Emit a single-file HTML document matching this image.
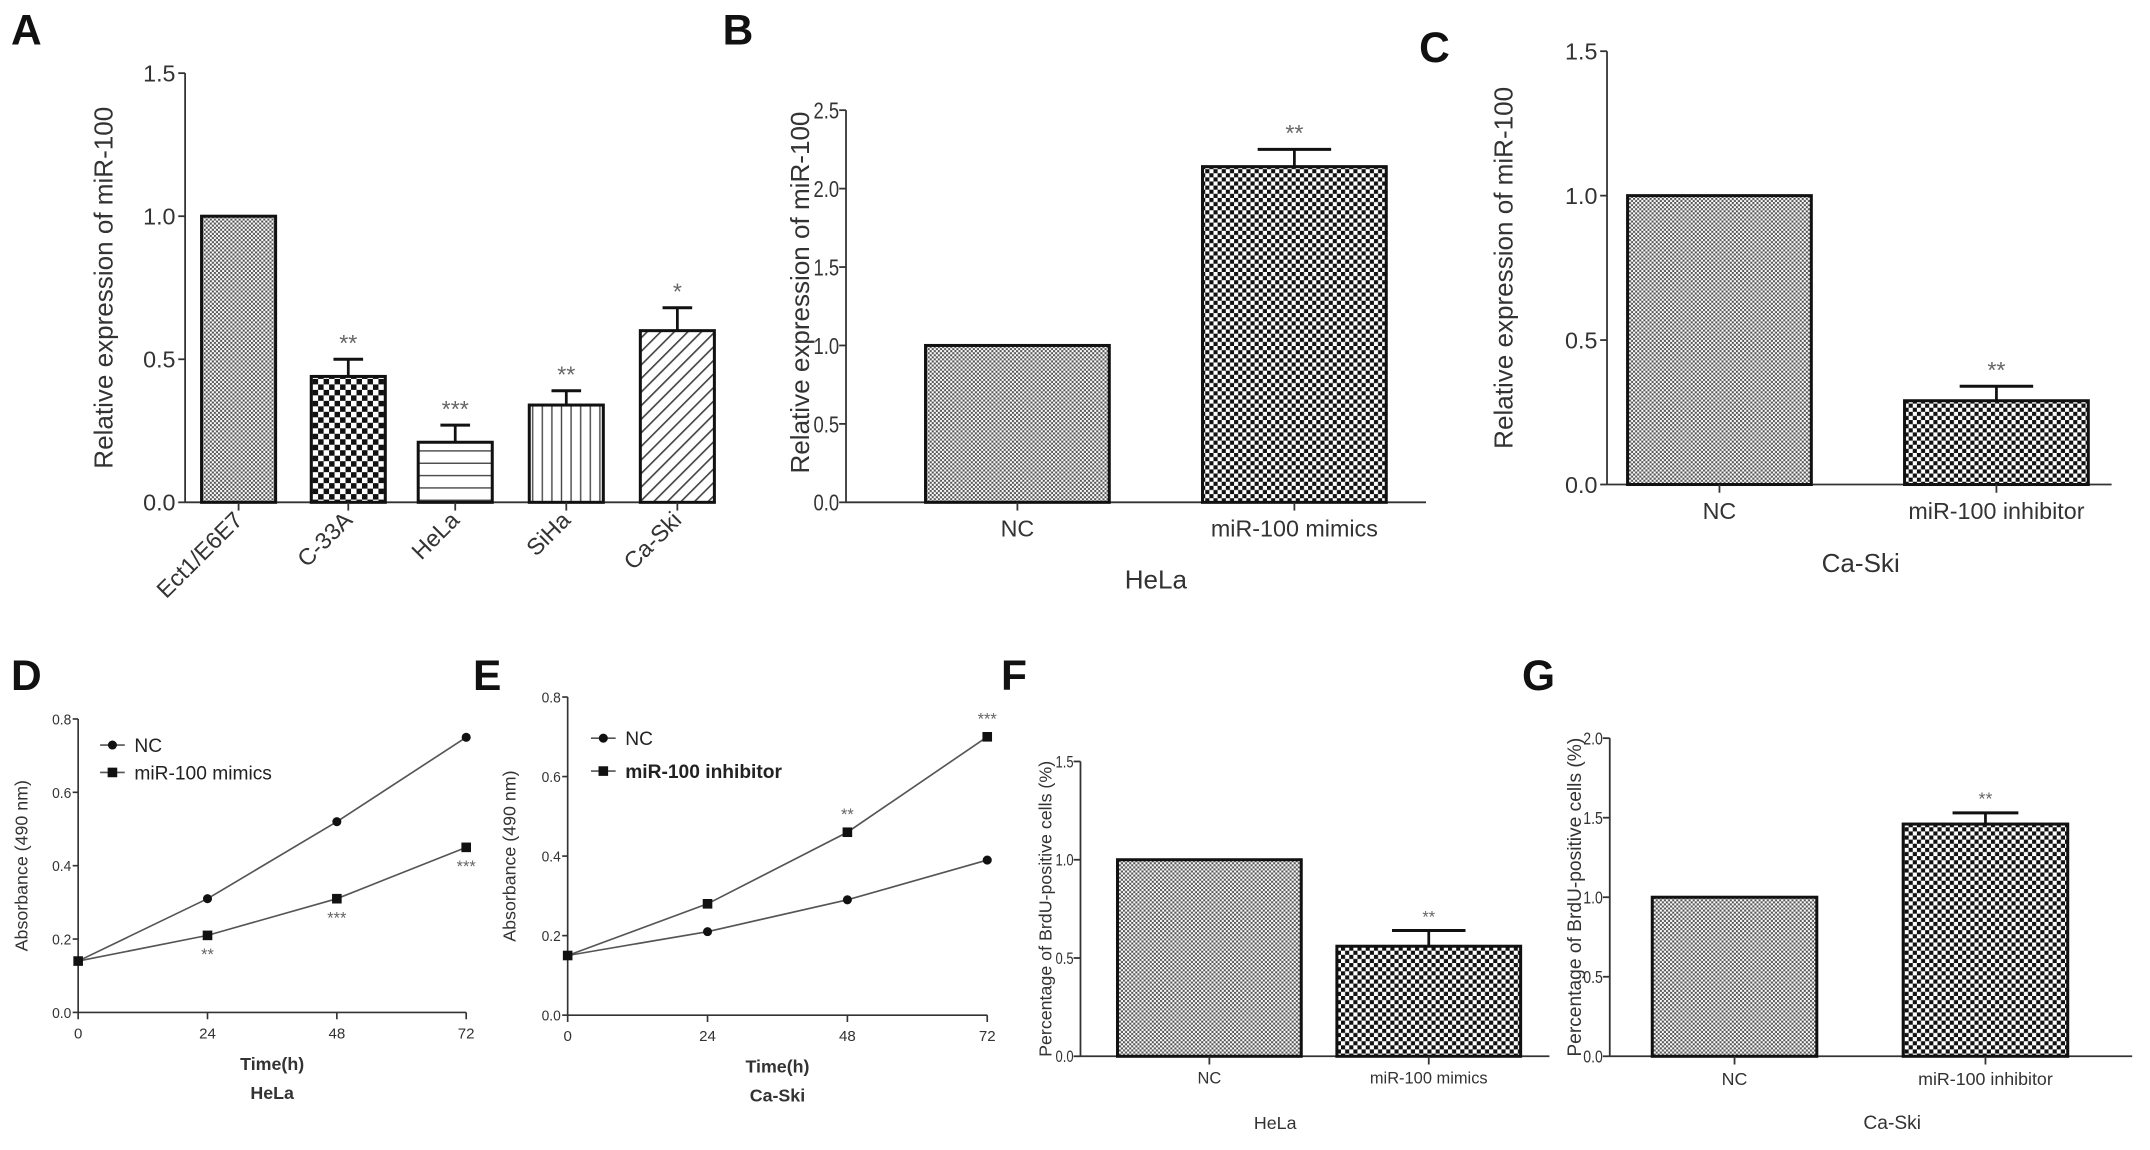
<!DOCTYPE html>
<html><head><meta charset="utf-8"><style>
html,body{margin:0;padding:0;background:#fff;}
svg{display:block;font-family:"Liberation Sans",Arial,sans-serif;}
</style></head><body>
<svg id="fig" width="2150" height="1150" viewBox="0 0 1568 838" xmlns="http://www.w3.org/2000/svg">
<defs>
<pattern id="pFine" width="3" height="3" patternUnits="userSpaceOnUse"><rect width="3" height="3" fill="#fff"/><rect width="1.5" height="1.5" fill="#555"/><rect x="1.5" y="1.5" width="1.5" height="1.5" fill="#555"/></pattern>
<pattern id="pCoarse" width="8" height="8" patternUnits="userSpaceOnUse"><rect width="8" height="8" fill="#fff"/><rect width="4" height="4" fill="#111"/><rect x="4" y="4" width="4" height="4" fill="#111"/></pattern>
<pattern id="pDots" width="6" height="6" patternUnits="userSpaceOnUse"><rect width="6" height="6" fill="#fff"/><rect width="3" height="3" fill="#111"/><rect x="3" y="3" width="3" height="3" fill="#111"/></pattern>
<pattern id="pHoriz" width="6" height="9" patternUnits="userSpaceOnUse"><rect width="6" height="9" fill="#fff"/><rect y="4" width="6" height="1" fill="#444"/></pattern>
<pattern id="pVert" width="7" height="6" patternUnits="userSpaceOnUse"><rect width="7" height="6" fill="#fff"/><rect x="3" width="1" height="6" fill="#444"/></pattern>
<pattern id="pDiag" width="7" height="7" patternUnits="userSpaceOnUse" patternTransform="rotate(45)"><rect width="7" height="7" fill="#fff"/><rect width="1.2" height="7" fill="#444"/></pattern>
</defs>
<g id="root"></g>
</svg>
<script>
// Panel A data
const aCats = ["Ect1/E6E7","C-33A","HeLa","SiHa","Ca-Ski"];
const aVals = [1.0,0.44,0.21,0.34,0.60];
const aErr = [0,0.50,0.27,0.39,0.68];
const aStars = ["","**","***","**","*"];
const aTicks = [0,0.5,1.0,1.5];
// Panel B
const bCats = ["NC","miR-100 mimics"];
const bVals = [1.0,2.14];
const bErr = [0,2.25];
const bStars = ["","**"];
const bTicks = [0,0.5,1.0,1.5,2.0,2.5];
// Panel C
const cCats = ["NC","miR-100 inhibitor"];
const cVals = [1.0,0.29];
const cErr = [0,0.34];
const cStars = ["","**"];
const cTicks = [0,0.5,1.0,1.5];
// Panel D
const dTimes = [0,24,48,72];
const dNC = [0.14,0.31,0.52,0.75];
const dMimics = [0.14,0.21,0.31,0.45];
const dStars = ["","**","***","***"];
const dTicks = [0,0.2,0.4,0.6,0.8];
// Panel E
const eTimes = [0,24,48,72];
const eNC = [0.15,0.21,0.29,0.39];
const eInhib = [0.15,0.28,0.46,0.70];
const eStars = ["","","**","***"];
const eTicks = [0,0.2,0.4,0.6,0.8];
// Panel F
const fCats = ["NC","miR-100 mimics"];
const fVals = [1.0,0.56];
const fErr = [0,0.64];
const fStars = ["","**"];
const fTicks = [0,0.5,1.0,1.5];
// Panel G
const gCats = ["NC","miR-100 inhibitor"];
const gVals = [1.0,1.46];
const gErr = [0,1.53];
const gStars = ["","**"];
const gTicks = [0,0.5,1.0,1.5,2.0];

const NS="http://www.w3.org/2000/svg";
const root=document.getElementById('root');
function mk(tag,attrs,parent,text){const e=document.createElementNS(NS,tag);for(const k in attrs)e.setAttribute(k,attrs[k]);if(text!==undefined)e.textContent=text;(parent||root).appendChild(e);return e;}
function label(x,y,t,name){const e=mk('text',{x:x,y:y,'font-size':31,'font-weight':'bold',fill:'#111'},root,t);

}

function barChart(o){
  const g=mk('g',{});
  
  
  const ymax=o.ticks[o.ticks.length-1];
  const Y=v=>o.y0-(v/ymax)*(o.y0-o.y1);
  mk('line',{x1:o.ax,y1:o.y1,x2:o.ax,y2:o.y0,stroke:'#333','stroke-width':1.3},g);
  mk('line',{x1:o.ax,y1:o.y0,x2:o.xend,y2:o.y0,stroke:'#333','stroke-width':1.3},g);
  o.ticks.forEach(t=>{
    mk('line',{x1:o.ax-5,y1:Y(t),x2:o.ax,y2:Y(t),stroke:'#333','stroke-width':1.3},g);
    const at={x:o.ax-(o.narrow?5:7),y:Y(t)+o.fs*0.36,'text-anchor':'end','font-size':o.fs,fill:'#333'};
    if(o.narrow){at.textLength=o.fs*1.1;at.lengthAdjust='spacingAndGlyphs';}
    const tl=mk('text',at,g,t.toFixed(1));
    
    
  });
  o.cats.forEach((c,i)=>{
    const cx=o.bx[i], w=o.bw;
    const r=mk('rect',{x:cx-w/2,y:Y(o.vals[i]),width:w,height:o.y0-Y(o.vals[i]),fill:'url(#'+o.pats[i]+')',stroke:'#111','stroke-width':2.2},g);
    
    
    if(o.err[i]>0){
      mk('line',{x1:cx,y1:Y(o.vals[i]),x2:cx,y2:Y(o.err[i]),stroke:'#111','stroke-width':2},g);
      mk('line',{x1:cx-w*0.2,y1:Y(o.err[i]),x2:cx+w*0.2,y2:Y(o.err[i]),stroke:'#111','stroke-width':2.2},g);
    }
    if(o.stars[i]){const s=mk('text',{x:cx,y:Y(Math.max(o.err[i],o.vals[i]))-6,'text-anchor':'middle','font-size':o.fs,fill:'#666'},g,o.stars[i]);
      
      }
    mk('line',{x1:cx,y1:o.y0,x2:cx,y2:o.y0+6,stroke:'#333','stroke-width':1.3},g);
    let xl;
    if(o.rot){xl=mk('text',{x:cx+4,y:o.y0+14,'text-anchor':'end','font-size':o.fs,fill:'#333',transform:'rotate(-45 '+(cx+4)+' '+(o.y0+14)+')'},g,c);}
    else xl=mk('text',{x:cx,y:o.y0+o.fs+8,'text-anchor':'middle','font-size':o.fs,fill:'#333'},g,c);
    
    
  });
  const yt=mk('text',{x:0,y:0,'text-anchor':'middle','font-size':o.tfs,fill:'#333',transform:'translate('+o.tx+','+((o.y0+o.y1)/2+o.tyoff)+') rotate(-90)'},g,o.ytitle);
  
  
  if(o.xtitle){const xt=mk('text',{x:o.xtx,y:o.xty,'text-anchor':'middle','font-size':o.tfs,fill:'#333'},g,o.xtitle);
    
    }
}

function lineChart(o){
  const g=mk('g',{});
  
  
  const ymax=o.ticks[o.ticks.length-1];
  const Y=v=>o.y0-(v/ymax)*(o.y0-o.y1);
  const X=t=>o.ax+(t/72)*(o.xend-o.ax);
  mk('line',{x1:o.ax,y1:o.y1,x2:o.ax,y2:o.y0,stroke:'#333','stroke-width':1.2},g);
  mk('line',{x1:o.ax,y1:o.y0,x2:o.xend,y2:o.y0,stroke:'#333','stroke-width':1.2},g);
  o.ticks.forEach(t=>{mk('line',{x1:o.ax-4,y1:Y(t),x2:o.ax,y2:Y(t),stroke:'#333','stroke-width':1.2},g);
    const tl=mk('text',{x:o.ax-5,y:Y(t)+4,'text-anchor':'end','font-size':11,fill:'#333',textLength:14,lengthAdjust:'spacingAndGlyphs'},g,t.toFixed(1));
    
    });
  o.times.forEach(t=>{mk('line',{x1:X(t),y1:o.y0,x2:X(t),y2:o.y0+5,stroke:'#333','stroke-width':1.2},g);
    const tl=mk('text',{x:X(t),y:o.y0+19,'text-anchor':'middle','font-size':11,fill:'#333'},g,String(t));
    
    });
  o.series.forEach((s,si)=>{
    const pts=s.vals.map((v,i)=>X(o.times[i])+','+Y(v)).join(' ');
    const pl=mk('polyline',{points:pts,fill:'none',stroke:'#555','stroke-width':1.2},g);
    
    
    s.vals.forEach((v,i)=>{
      let m;
      if(s.shape==='c') m=mk('circle',{cx:X(o.times[i]),cy:Y(v),r:3.3,fill:'#111'},g);
      else m=mk('rect',{x:X(o.times[i])-3.5,y:Y(v)-3.5,width:7,height:7,fill:'#111'},g);
      
      
    });
    const ly=o.legY[si];
    mk('line',{x1:o.legX,y1:ly,x2:o.legX+18,y2:ly,stroke:'#555','stroke-width':1.2},g);
    if(s.shape==='c') mk('circle',{cx:o.legX+9,cy:ly,r:3.3,fill:'#111'},g);
    else mk('rect',{x:o.legX+5.5,y:ly-3.5,width:7,height:7,fill:'#111'},g);
    const lt=mk('text',{x:o.legX+25,y:ly+5,'font-size':14,fill:'#222','font-weight':s.bold?'bold':'normal'},g,s.label);
    
    
  });
  o.stars.forEach((st,i)=>{if(!st)return;
    const sv=o.series[o.starSeries].vals[i];
    const dy=o.starBelow?18:-9;
    const s=mk('text',{x:X(o.times[i]),y:Y(sv)+dy,'text-anchor':'middle','font-size':12,fill:'#666'},g,st);
    
    });
  const yt=mk('text',{x:0,y:0,'text-anchor':'middle','font-size':13,fill:'#333',transform:'translate('+o.tx+','+((o.y0+o.y1)/2)+') rotate(-90)'},g,'Absorbance (490 nm)');
  
  
  const xt=mk('text',{x:(o.ax+o.xend)/2,y:o.y0+42,'text-anchor':'middle','font-size':13,'font-weight':'bold',fill:'#333'},g,'Time(h)');
  
  
  const ct=mk('text',{x:(o.ax+o.xend)/2,y:o.y0+63,'text-anchor':'middle','font-size':13,'font-weight':'bold',fill:'#333'},g,o.cell);
  
  
}

label(8,32,'A','panel-label-a');
label(527,32,'B','panel-label-b');
label(1035,45,'C','panel-label-c');
label(8,503,'D','panel-label-d');
label(345,503,'E','panel-label-e');
label(730,503,'F','panel-label-f');
label(1110,503,'G','panel-label-g');

barChart({name:'panel-a-chart',cats:aCats,vals:aVals,err:aErr,stars:aStars,ticks:aTicks,ax:135,y0:366,y1:53,xend:522,
  bx:[174,254,332,413,494],bw:54,pats:['pFine','pCoarse','pHoriz','pVert','pDiag'],fs:17,tfs:19,tx:82,tyoff:0,rot:true,ytitle:'Relative expression of miR-100'});
barChart({name:'panel-b-chart',cats:bCats,vals:bVals,err:bErr,stars:bStars,ticks:bTicks,ax:617,y0:366,y1:80,xend:1040,narrow:true,
  bx:[742,944],bw:134,pats:['pFine','pDots'],fs:17,tfs:19,tx:590,tyoff:-10,ytitle:'Relative expression of miR-100',xtitle:'HeLa',xtx:843,xty:429});
barChart({name:'panel-c-chart',cats:cCats,vals:cVals,err:cErr,stars:cStars,ticks:cTicks,ax:1172,y0:353,y1:37,xend:1540,
  bx:[1254,1456],bw:134,pats:['pFine','pDots'],fs:17,tfs:19,tx:1103,tyoff:0,ytitle:'Relative expression of miR-100',xtitle:'Ca-Ski',xtx:1357,xty:417});
lineChart({name:'panel-d-chart',times:dTimes,ticks:dTicks,ax:57,y0:738,y1:524,xend:340,tx:20,cell:'HeLa',
  series:[{key:'nc',label:'NC',vals:dNC,shape:'c'},{key:'mimics',label:'miR-100 mimics',vals:dMimics,shape:'s'}],
  legX:73,legY:[543,563],stars:dStars,starSeries:1,starBelow:true});
lineChart({name:'panel-e-chart',times:eTimes,ticks:eTicks,ax:414,y0:740,y1:508,xend:720,tx:376,cell:'Ca-Ski',
  series:[{key:'nc',label:'NC',vals:eNC,shape:'c'},{key:'inhibitor',label:'miR-100 inhibitor',vals:eInhib,shape:'s',bold:true}],
  legX:431,legY:[538,562],stars:eStars,starSeries:1,starBelow:false});
barChart({name:'panel-f-chart',cats:fCats,vals:fVals,err:fErr,stars:fStars,ticks:fTicks,ax:788,y0:770,y1:555,xend:1130,narrow:true,
  bx:[882,1042],bw:134,pats:['pFine','pDots'],fs:12,tfs:13,tx:767,tyoff:0,ytitle:'Percentage of BrdU-positive cells (%)',xtitle:'HeLa',xtx:930,xty:823});
barChart({name:'panel-g-chart',cats:gCats,vals:gVals,err:gErr,stars:gStars,ticks:gTicks,ax:1174,y0:770,y1:538,xend:1555,narrow:true,
  bx:[1265,1448],bw:120,pats:['pFine','pDots'],fs:13,tfs:14,tx:1153,tyoff:0,ytitle:'Percentage of BrdU-positive cells (%)',xtitle:'Ca-Ski',xtx:1380,xty:823});
</script>
</body></html>
